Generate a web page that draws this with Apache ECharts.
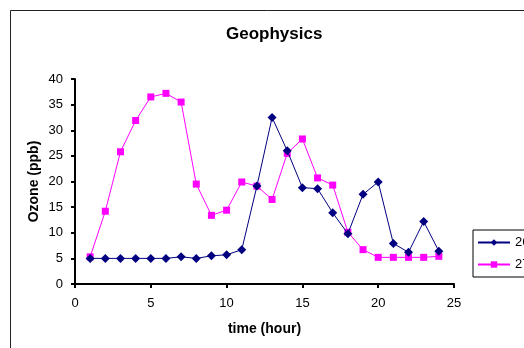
<!DOCTYPE html>
<html>
<head>
<meta charset="utf-8">
<script src="https://cdn.jsdelivr.net/npm/echarts@6/dist/echarts.min.js"></script>
<style>html,body{margin:0;padding:0;background:#fff;}#c{width:524px;height:348px;}</style>
</head>
<body>
<div id="c"></div>
<script>
const hours = [1,2,3,4,5,6,7,8,9,10,11,12,13,14,15,16,17,18,19,20,21,22,23,24];
const s26 = [5.0,5.0,5.0,5.0,5.0,5.0,5.3,5.0,5.5,5.7,6.7,19.1,32.5,26.0,18.8,18.6,13.9,9.8,17.5,19.9,7.9,6.2,12.2,6.4];
const s27 = [5.3,14.2,25.8,31.9,36.5,37.2,35.5,19.5,13.4,14.4,19.9,19.1,16.5,25.5,28.3,20.7,19.3,10.1,6.7,5.2,5.2,5.2,5.2,5.4];
const seriesNames = ['26','27'];
const xTicks = {min:0,max:25,interval:5};
const yTicks = {min:0,max:40,interval:5};

const chart = echarts.init(document.getElementById('c'), null, {renderer:'canvas'});
const font = 'Liberation Sans, Arial, sans-serif';
const pair = (arr) => hours.map((h,i)=>[h,arr[i]]);
chart.setOption({
  animation:false,
  backgroundColor:'#fff',
  title:{text:'Geophysics',left:221,top:21,textStyle:{fontFamily:font,fontSize:17,fontWeight:'bold',color:'#000'}},
  graphic:[{type:'rect',shape:{x:10.5,y:10.5,width:700,height:500},style:{fill:'none',stroke:'#222',lineWidth:1},silent:true,z:-1}],
  grid:{left:75,right:70,top:79,bottom:64,containLabel:false},
  legend:{orient:'vertical',left:473,top:230,itemWidth:32,itemHeight:8,itemGap:9,padding:[6,2,6,4],
    borderColor:'#000',borderWidth:1,backgroundColor:'#fff',
    textStyle:{fontFamily:font,fontSize:13,color:'#000'},
    data:[{name:seriesNames[0]},{name:seriesNames[1]}]},
  xAxis:{type:'value',min:xTicks.min,max:xTicks.max,interval:xTicks.interval,
    name:'time (hour)',nameLocation:'middle',nameGap:38,
    nameTextStyle:{fontFamily:font,fontSize:14,fontWeight:'bold',color:'#000'},
    axisLine:{onZero:false,lineStyle:{color:'#000',width:2}},
    axisTick:{show:true,length:4,lineStyle:{color:'#000',width:2}},
    axisLabel:{fontFamily:font,fontSize:13,color:'#000',margin:13},
    splitLine:{show:false}},
  yAxis:{type:'value',min:yTicks.min,max:yTicks.max,interval:yTicks.interval,
    name:'Ozone (ppb)',nameLocation:'middle',nameGap:41,nameRotate:90,nameMoveOverlap:false,
    nameTextStyle:{fontFamily:font,fontSize:14,fontWeight:'bold',color:'#000',verticalAlign:'middle'},
    axisLine:{show:true,lineStyle:{color:'#000',width:2}},
    axisTick:{show:true,length:4,lineStyle:{color:'#000',width:2}},
    axisLabel:{fontFamily:font,fontSize:13,color:'#000',margin:12},
    splitLine:{show:false}},
  series:[
    {name:seriesNames[0],type:'line',data:pair(s26),symbol:'diamond',symbolSize:9,
      lineStyle:{color:'#000080',width:1},itemStyle:{color:'#000080'},z:3},
    {name:seriesNames[1],type:'line',data:pair(s27),symbol:'rect',symbolSize:7,
      lineStyle:{color:'#FF00FF',width:1},itemStyle:{color:'#FF00FF'},z:2}
  ]
});
</script>
</body>
</html>
